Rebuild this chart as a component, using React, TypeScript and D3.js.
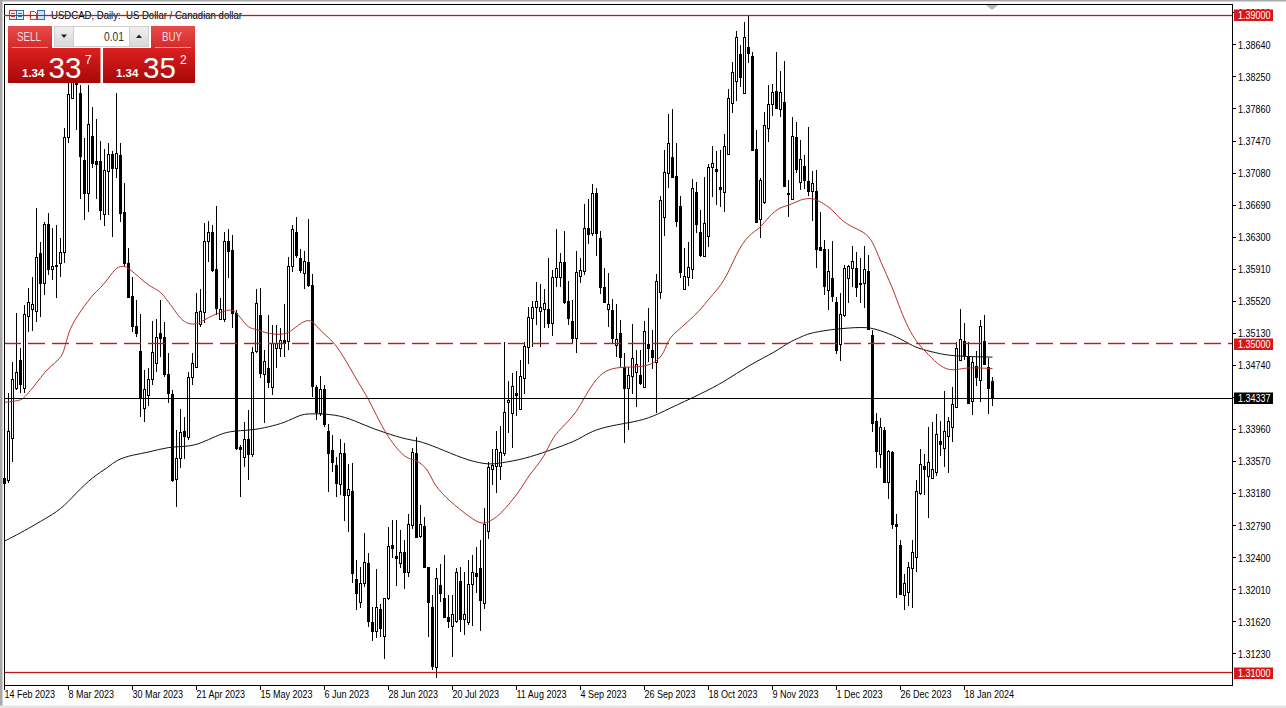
/**
 * USDCAD daily candlestick chart, MetaTrader style
 */
import React from "react";
import * as d3 from "d3";

const highs = [
  1.3337,1.3440,1.3478,1.3538,1.3495,1.3547,1.3568,1.3581,1.3665,1.3624,
  1.3648,1.3659,1.3641,1.3645,1.3629,1.3763,1.3821,1.3833,1.3840,1.3815,
  1.3751,1.3815,1.3788,1.3774,1.3747,1.3737,1.3745,1.3735,1.3805,1.3745,
  1.3696,1.3617,1.3581,1.3553,1.3536,1.3468,1.3471,1.3528,1.3530,1.3553,
  1.3527,1.3489,1.3444,1.3395,1.3421,1.3411,1.3466,1.3489,1.3562,1.3567,
  1.3647,1.3650,1.3645,1.3668,1.3556,1.3636,1.3640,1.3633,1.3541,1.3377,
  1.3405,1.3420,1.3496,1.3567,1.3568,1.3493,1.3535,1.3523,1.3523,1.3519,
  1.3549,1.3606,1.3645,1.3655,1.3616,1.3613,1.3652,1.3585,1.3450,1.3461,
  1.3450,1.3403,1.3389,1.3362,1.3384,1.3379,1.3354,1.3355,1.3237,1.3229,
  1.3270,1.3246,1.3180,1.3226,1.3184,1.3191,1.3277,1.3286,1.3286,1.3274,
  1.3261,1.3293,1.3373,1.3387,1.3304,1.3289,1.3229,1.3194,1.3227,1.3232,
  1.3243,1.3194,1.3194,1.3227,1.3229,1.3222,1.3237,1.3243,1.3253,1.3261,
  1.3300,1.3356,1.3372,1.3394,1.3400,1.3502,1.3455,1.3465,1.3467,1.3480,
  1.3502,1.3545,1.3552,1.3575,1.3573,1.3567,1.3605,1.3590,1.3640,1.3611,
  1.3637,1.3577,1.3553,1.3613,1.3605,1.3670,1.3676,1.3695,1.3690,1.3637,
  1.3592,1.3586,1.3555,1.3549,1.3529,1.3489,1.3472,1.3524,1.3493,1.3493,
  1.3528,1.3544,1.3517,1.3585,1.3680,1.3736,1.3780,1.3786,1.3745,1.3680,
  1.3617,1.3624,1.3701,1.3697,1.3663,1.3703,1.3719,1.3741,1.3735,1.3736,
  1.3756,1.3810,1.3843,1.3881,1.3864,1.3892,1.3899,1.3855,1.3760,1.3702,
  1.3782,1.3815,1.3816,1.3855,1.3832,1.3844,1.3700,1.3776,1.3770,1.3748,
  1.3730,1.3764,1.3711,1.3712,1.3661,1.3626,1.3616,1.3625,1.3557,1.3562,
  1.3596,1.3596,1.3619,1.3612,1.3605,1.3619,1.3608,1.3517,1.3416,1.3410,
  1.3399,1.3371,1.3370,1.3293,1.3261,1.3220,1.3235,1.3261,1.3334,1.3372,
  1.3366,1.3399,1.3405,1.3415,1.3406,1.3443,1.3411,1.3448,1.3502,1.3542,
  1.3526,1.3502,1.3484,1.3491,1.3529,1.3535,1.3483,1.3460,
];

const lows = [
  1.3331,1.3331,1.3356,1.3444,1.3440,1.3440,1.3515,1.3516,1.3527,1.3533,
  1.3560,1.3584,1.3578,1.3556,1.3581,1.3599,1.3745,1.3798,1.3760,1.3676,
  1.3651,1.3661,1.3714,1.3676,1.3651,1.3644,1.3657,1.3630,1.3702,1.3648,
  1.3594,1.3556,1.3515,1.3508,1.3411,1.3405,1.3424,1.3450,1.3466,1.3484,
  1.3460,1.3428,1.3332,1.3302,1.3349,1.3360,1.3383,1.3450,1.3471,1.3521,
  1.3526,1.3600,1.3588,1.3535,1.3529,1.3527,1.3580,1.3519,1.3371,1.3314,
  1.3350,1.3334,1.3362,1.3489,1.3459,1.3404,1.3446,1.3438,1.3471,1.3484,
  1.3484,1.3493,1.3588,1.3605,1.3586,1.3567,1.3569,1.3435,1.3407,1.3412,
  1.3399,1.3320,1.3344,1.3314,1.3316,1.3285,1.3271,1.3209,1.3176,1.3179,
  1.3204,1.3156,1.3138,1.3142,1.3143,1.3117,1.3188,1.3240,1.3205,1.3227,
  1.3202,1.3216,1.3275,1.3265,1.3264,1.3229,1.3143,1.3103,1.3093,1.3186,
  1.3166,1.3154,1.3119,1.3160,1.3149,1.3146,1.3158,1.3157,1.3197,1.3151,
  1.3177,1.3263,1.3328,1.3319,1.3334,1.3364,1.3392,1.3373,1.3412,1.3420,
  1.3439,1.3476,1.3496,1.3523,1.3496,1.3519,1.3519,1.3510,1.3569,1.3569,
  1.3549,1.3523,1.3501,1.3489,1.3574,1.3584,1.3622,1.3631,1.3607,1.3561,
  1.3551,1.3521,1.3501,1.3484,1.3472,1.3379,1.3395,1.3439,1.3423,1.3450,
  1.3448,1.3478,1.3470,1.3416,1.3555,1.3631,1.3690,1.3702,1.3642,1.3580,
  1.3567,1.3571,1.3579,1.3635,1.3606,1.3606,1.3618,1.3679,1.3669,1.3667,
  1.3661,1.3731,1.3781,1.3796,1.3813,1.3805,1.3842,1.3735,1.3648,1.3629,
  1.3670,1.3746,1.3777,1.3786,1.3776,1.3691,1.3655,1.3675,1.3708,1.3687,
  1.3689,1.3680,1.3650,1.3592,1.3613,1.3560,1.3541,1.3551,1.3488,1.3479,
  1.3533,1.3550,1.3569,1.3557,1.3550,1.3544,1.3517,1.3393,1.3349,1.3349,
  1.3332,1.3311,1.3275,1.3191,1.3196,1.3176,1.3181,1.3179,1.3222,1.3316,
  1.3316,1.3288,1.3337,1.3339,1.3364,1.3350,1.3343,1.3381,1.3422,1.3479,
  1.3480,1.3427,1.3414,1.3449,1.3429,1.3474,1.3415,1.3424,
];

const opens = [
  1.3337,1.3334,1.3386,1.3446,1.3480,1.3446,1.3534,1.3542,1.3540,1.3611,
  1.3574,1.3646,1.3591,1.3596,1.3599,1.3612,1.3752,1.3799,1.3833,1.3805,
  1.3724,1.3684,1.3753,1.3723,1.3723,1.3658,1.3711,1.3731,1.3714,1.3730,
  1.3661,1.3599,1.3558,1.3522,1.3491,1.3422,1.3438,1.3457,1.3477,1.3513,
  1.3508,1.3463,1.3439,1.3336,1.3361,1.3394,1.3387,1.3460,1.3472,1.3524,
  1.3539,1.3625,1.3636,1.3591,1.3530,1.3530,1.3625,1.3614,1.3538,1.3375,
  1.3362,1.3384,1.3366,1.3491,1.3535,1.3463,1.3471,1.3448,1.3495,1.3495,
  1.3505,1.3504,1.3595,1.3636,1.3605,1.3586,1.3600,1.3572,1.3448,1.3416,
  1.3445,1.3394,1.3371,1.3353,1.3330,1.3367,1.3316,1.3321,1.3214,1.3186,
  1.3209,1.3233,1.3162,1.3151,1.3177,1.3145,1.3191,1.3255,1.3242,1.3233,
  1.3247,1.3222,1.3280,1.3367,1.3266,1.3278,1.3229,1.3180,1.3107,1.3207,
  1.3191,1.3168,1.3157,1.3163,1.3211,1.3165,1.3162,1.3208,1.3221,1.3227,
  1.3185,1.3272,1.3348,1.3351,1.3351,1.3367,1.3429,1.3416,1.3440,1.3421,
  1.3459,1.3496,1.3532,1.3545,1.3540,1.3542,1.3542,1.3526,1.3581,1.3581,
  1.3600,1.3552,1.3528,1.3507,1.3583,1.3589,1.3641,1.3635,1.3684,1.3629,
  1.3569,1.3542,1.3541,1.3499,1.3513,1.3472,1.3446,1.3461,1.3466,1.3462,
  1.3448,1.3500,1.3493,1.3478,1.3563,1.3655,1.3708,1.3728,1.3704,1.3668,
  1.3567,1.3581,1.3591,1.3685,1.3636,1.3607,1.3631,1.3715,1.3713,1.3691,
  1.3685,1.3731,1.3793,1.3820,1.3853,1.3805,1.3861,1.3850,1.3737,1.3652,
  1.3673,1.3763,1.3792,1.3808,1.3786,1.3794,1.3684,1.3676,1.3752,1.3697,
  1.3716,1.3698,1.3686,1.3686,1.3618,1.3616,1.3566,1.3580,1.3551,1.3500,
  1.3535,1.3580,1.3592,1.3592,1.3574,1.3574,1.3589,1.3511,1.3406,1.3366,
  1.3395,1.3332,1.3368,1.3281,1.3255,1.3194,1.3198,1.3227,1.3241,1.3319,
  1.3351,1.3339,1.3337,1.3344,1.3382,1.3373,1.3388,1.3399,1.3423,1.3480,
  1.3504,1.3484,1.3431,1.3473,1.3456,1.3504,1.3472,1.3455,
];

const closes = [
  1.3331,1.3394,1.3457,1.3466,1.3451,1.3536,1.3551,1.3549,1.3606,1.3574,
  1.3646,1.3591,1.3595,1.3595,1.3612,1.3752,1.3804,1.3824,1.3816,1.3729,
  1.3684,1.3768,1.3720,1.3719,1.3663,1.3712,1.3731,1.3714,1.3732,1.3659,
  1.3599,1.3557,1.3522,1.3513,1.3434,1.3445,1.3457,1.3490,1.3508,1.3507,
  1.3463,1.3440,1.3334,1.3361,1.3393,1.3388,1.3460,1.3477,1.3539,1.3540,
  1.3625,1.3636,1.3590,1.3544,1.3542,1.3625,1.3613,1.3538,1.3373,1.3372,
  1.3384,1.3366,1.3490,1.3550,1.3465,1.3479,1.3454,1.3501,1.3501,1.3505,
  1.3501,1.3595,1.3640,1.3608,1.3590,1.3601,1.3572,1.3449,1.3417,1.3445,
  1.3403,1.3367,1.3356,1.3331,1.3367,1.3316,1.3323,1.3221,1.3197,1.3209,
  1.3235,1.3163,1.3151,1.3180,1.3154,1.3191,1.3254,1.3252,1.3240,1.3247,
  1.3222,1.3281,1.3368,1.3265,1.3281,1.3229,1.3186,1.3108,1.3215,1.3197,
  1.3168,1.3163,1.3171,1.3222,1.3165,1.3171,1.3208,1.3222,1.3218,1.3188,
  1.3281,1.3350,1.3353,1.3372,1.3368,1.3417,1.3432,1.3449,1.3438,1.3461,
  1.3498,1.3533,1.3545,1.3552,1.3545,1.3550,1.3526,1.3581,1.3592,1.3600,
  1.3551,1.3532,1.3507,1.3588,1.3590,1.3641,1.3634,1.3684,1.3635,1.3569,
  1.3551,1.3549,1.3507,1.3506,1.3484,1.3446,1.3462,1.3483,1.3476,1.3452,
  1.3516,1.3495,1.3484,1.3577,1.3675,1.3709,1.3745,1.3703,1.3650,1.3588,
  1.3583,1.3594,1.3690,1.3646,1.3608,1.3647,1.3715,1.3720,1.3711,1.3689,
  1.3741,1.3799,1.3831,1.3874,1.3825,1.3874,1.3854,1.3736,1.3648,1.3700,
  1.3766,1.3792,1.3807,1.3787,1.3807,1.3692,1.3682,1.3753,1.3713,1.3725,
  1.3700,1.3686,1.3696,1.3616,1.3614,1.3571,1.3589,1.3558,1.3493,1.3536,
  1.3592,1.3595,1.3601,1.3569,1.3573,1.3591,1.3518,1.3404,1.3370,1.3399,
  1.3332,1.3370,1.3281,1.3278,1.3196,1.3209,1.3229,1.3247,1.3321,1.3354,
  1.3348,1.3356,1.3348,1.3390,1.3378,1.3394,1.3406,1.3427,1.3495,1.3506,
  1.3487,1.3428,1.3478,1.3460,1.3522,1.3476,1.3446,1.3434,
];

// Red moving average, read at a spread of bars
const fastBars = [0,4,5,7,9,11,14,15,16,18,22,24,26,28,30,31,34,36,39,40,42,44,46,48,50,52,54,57,59,61,63,66,70,72,75,77,79,83,88,91,95,99,101,103,106,107,110,115,119,121,124,129,131,135,137,140,143,145,148,151,155,160,163,165,166,169,174,176,180,183,186,189,191,194,196,199,202,204,207,209,212,215,217,219,222,224,226,228,231,234,237,240,243,247];
const fastValues = [1.3429,1.3431,1.3435,1.3446,1.3459,1.3471,1.3482,1.3493,1.3515,1.3533,1.3560,1.3568,1.3580,1.3594,1.3595,1.3592,1.3580,1.3571,1.3564,1.3557,1.3545,1.3530,1.3524,1.3524,1.3529,1.3535,1.3538,1.3544,1.3532,1.3519,1.3518,1.3512,1.3511,1.3517,1.3529,1.3529,1.3515,1.3501,1.3456,1.3434,1.3392,1.3367,1.3360,1.3359,1.3347,1.3332,1.3314,1.3294,1.3280,1.3283,1.3292,1.3322,1.3340,1.3362,1.3387,1.3401,1.3417,1.3435,1.3459,1.3470,1.3472,1.3472,1.3478,1.3490,1.3507,1.3519,1.3541,1.3555,1.3575,1.3611,1.3633,1.3641,1.3655,1.3667,1.3668,1.3676,1.3678,1.3673,1.3664,1.3651,1.3642,1.3636,1.3626,1.3600,1.3569,1.3541,1.3519,1.3502,1.3487,1.3472,1.3467,1.3471,1.3471,1.3470];

// Black moving average
const slowBars = [0,4,8,10,14,18,22,26,28,32,36,41,46,49,53,56,62,66,70,74,76,80,85,90,95,101,104,110,116,121,124,130,136,143,146,150,156,161,166,174,180,186,193,196,199,201,207,215,218,222,226,228,233,237,247];
const slowValues = [1.3260,1.3270,1.3281,1.3287,1.3298,1.3319,1.3338,1.3350,1.3359,1.3365,1.3368,1.3375,1.3375,1.3379,1.3388,1.3394,1.3395,1.3399,1.3404,1.3414,1.3415,1.3415,1.3412,1.3401,1.3392,1.3383,1.3382,1.3370,1.3358,1.3353,1.3355,1.3360,1.3370,1.3382,1.3392,1.3399,1.3404,1.3409,1.3421,1.3439,1.3454,1.3474,1.3491,1.3502,1.3508,1.3513,1.3518,1.3521,1.3518,1.3511,1.3501,1.3495,1.3489,1.3485,1.3484];

const priceTicks = [1.3903,1.3864,1.3825,1.3786,1.3747,1.3708,1.3669,1.363,1.3591,1.3552,1.3513,1.3474,1.3435,1.3396,1.3357,1.3318,1.3279,1.324,1.3201,1.3162,1.3123];
const dateLabels = ["14 Feb 2023","8 Mar 2023","30 Mar 2023","21 Apr 2023","15 May 2023","6 Jun 2023","28 Jun 2023","20 Jul 2023","11 Aug 2023","4 Sep 2023","26 Sep 2023","18 Oct 2023","9 Nov 2023","1 Dec 2023","26 Dec 2023","18 Jan 2024"];
const dateBars = [0,16,32,48,64,80,96,112,128,144,160,176,192,208,224,240];

const solidLevels = [1.39, 1.31];
const dashedLevel = 1.35;
const lastPrice = 1.34337;

const W = 1286;
const H = 708;
const plotLeft = 4;
const plotRight = 1232;
const plotTop = 4;
const plotBottom = 685;
const FONT = "'Liberation Sans', Arial, sans-serif";
const RED = "#b81c1c";

const xScale = d3.scaleLinear().domain([0, 247]).range([4.5, 992.5]);
const yScale = d3.scaleLinear().domain([1.31, 1.39]).range([672.6, 15.3]);

const px = (v: number) => Math.round(v) + 0.5;

function maPath(bars: number[], values: number[]) {
  return d3
    .line<number>()
    .x((b) => xScale(b))
    .y((_, i) => yScale(values[i]))
    .curve(d3.curveBasis)(bars);
}

// The terminal's UI font is narrower than anything installed, so squeeze Liberation
const Squeezed = ({ x, y, size = 11, fill = "#000", anchor = "start", k = 0.82, children }: any) => (
  <text
    transform={`translate(${x},${y}) scale(${k},1)`}
    fontSize={size}
    fill={fill}
    textAnchor={anchor}
    fontFamily={FONT}
  >
    {children}
  </text>
);

const PriceFlag = ({ price, fill }: { price: number; fill: string }) => {
  const y = Math.round(yScale(price));
  return (
    <g>
      <rect x={1234} y={y - 5.5} width={39} height={11.5} fill={fill} />
      <Squeezed x={1238} y={y + 4} fill="#fff">
        {price.toFixed(5)}
      </Squeezed>
    </g>
  );
};

const Panel = () => (
  <g fontFamily={FONT}>
    <defs>
      <linearGradient id="btn" x1="0" y1="0" x2="0" y2="1">
        <stop offset="0" stopColor="#e84a4a" />
        <stop offset="1" stopColor="#d42a2a" />
      </linearGradient>
      <linearGradient id="quote" x1="0" y1="0" x2="0" y2="1">
        <stop offset="0" stopColor="#dc2020" />
        <stop offset="1" stopColor="#a80808" />
      </linearGradient>
      <linearGradient id="arrow" x1="0" y1="0" x2="0" y2="1">
        <stop offset="0" stopColor="#f0f0f0" />
        <stop offset="1" stopColor="#d8d8d8" />
      </linearGradient>
    </defs>
    <rect x={8} y={26} width={44} height={22} fill="url(#btn)" />
    <rect x={151} y={26} width={44} height={22} fill="url(#btn)" />
    <line x1={12} x2={48} y1={47.5} y2={47.5} stroke="#f4a0a0" />
    <line x1={155} x2={191} y1={47.5} y2={47.5} stroke="#f4a0a0" />
    <rect x={8} y={48} width={92.5} height={35} fill="url(#quote)" />
    <rect x={103} y={48} width={92} height={35} fill="url(#quote)" />
    <Squeezed x={29} y={41} size={13} fill="#fbdcdc" anchor="middle" k={0.75}>SELL</Squeezed>
    <Squeezed x={172} y={41} size={13} fill="#fbdcdc" anchor="middle" k={0.75}>BUY</Squeezed>
    <rect x={54.5} y={26.5} width={94} height={20} fill="#fff" stroke="#cfcfcf" />
    <rect x={54.5} y={26.5} width={19} height={20} fill="url(#arrow)" stroke="#cfcfcf" />
    <rect x={129.5} y={26.5} width={19} height={20} fill="url(#arrow)" stroke="#cfcfcf" />
    <path d="M61 34.5h6l-3 3.5z" fill="#222" />
    <path d="M136 38h6l-3-3.5z" fill="#222" />
    <Squeezed x={124} y={41} size={12.5} fill="#333" anchor="end">0.01</Squeezed>
    <text x={22} y={77} fontSize={11.5} fontWeight="bold" fill="#fff">1.34</text>
    <text x={48.5} y={77.5} fontSize={29.5} fill="#fff">33</text>
    <text x={85} y={63.5} fontSize={12} fill="#fff">7</text>
    <text x={116} y={77} fontSize={11.5} fontWeight="bold" fill="#fff">1.34</text>
    <text x={143} y={77.5} fontSize={29.5} fill="#fff">35</text>
    <text x={180} y={63.5} fontSize={12} fill="#fff">2</text>
  </g>
);

const Icons = () => (
  <g fill="none" strokeWidth={1}>
    <rect x={9.5} y={10.5} width={7} height={9} stroke="#c03a3a" fill="#fbe9e4" />
    <rect x={16.5} y={10.5} width={7} height={9} stroke="#2f6fb0" fill="#e4eefa" />
    <path d="M11 13.5h4M11 16.5h4" stroke="#c03a3a" />
    <path d="M18 13.5h4M18 16.5h4" stroke="#2f6fb0" />
    <path d="M30.5 19.5v-8h4l2 2v6z" stroke="#c03a3a" fill="#fdf1ec" />
    <rect x={37.5} y={10.5} width={7} height={9} stroke="#2f6fb0" fill="#cfe2f6" />
  </g>
);

export default function App() {
  const dashY = px(yScale(dashedLevel) - 0.5);
  return (
    <svg
      width={W}
      height={H}
      viewBox={`0 0 ${W} ${H}`}
      style={{ position: "absolute", left: 0, top: 0, background: "#fff" }}
    >
      {/* window edge */}
      <rect x={0} y={0} width={W} height={1.5} fill="#a8a8a8" />
      <rect x={0} y={0} width={2.5} height={H} fill="#a8a8a8" />
      <rect x={0} y={705.5} width={W} height={2.5} fill="#e4e4e4" />

      {/* candles */}
      <g shapeRendering="crispEdges">
        {closes.map((c, i) => {
          const x = Math.round(xScale(i) - 0.5) + 0.5;
          const o = opens[i];
          const up = c >= o;
          const top = Math.round(yScale(Math.max(o, c)));
          const bottom = Math.round(yScale(Math.min(o, c)));
          return (
            <g key={i}>
              <line
                x1={x}
                x2={x}
                y1={Math.round(yScale(highs[i]))}
                y2={Math.round(yScale(lows[i]))}
                stroke="#000"
              />
              <rect
                x={x - 1}
                y={top + 0.5}
                width={2}
                height={Math.max(bottom - top, 1)}
                fill={up ? "#fff" : "#000"}
                stroke="#000"
              />
            </g>
          );
        })}
      </g>

      {/* moving averages */}
      <path d={maPath(slowBars, slowValues) ?? ""} fill="none" stroke="#111" strokeWidth={1} />
      <path d={maPath(fastBars, fastValues) ?? ""} fill="none" stroke="#b8302a" strokeWidth={1} />

      {/* horizontal levels */}
      <g>
        {solidLevels.map((l) => (
          <g key={l}>
            <line x1={plotLeft} x2={plotRight} y1={px(yScale(l) - 0.5)} y2={px(yScale(l) - 0.5)} stroke={RED} strokeWidth={3} opacity={0.15} />
            <line x1={plotLeft} x2={plotRight} y1={px(yScale(l) - 0.5)} y2={px(yScale(l) - 0.5)} stroke={RED} />
          </g>
        ))}
        <line x1={plotLeft} x2={plotRight} y1={dashY} y2={dashY} stroke={RED} strokeWidth={3} opacity={0.2} strokeDasharray="17 7" />
        <line x1={plotLeft} x2={plotRight} y1={dashY} y2={dashY} stroke={RED} strokeDasharray="17 7" />
        <line
          x1={plotLeft}
          x2={plotRight}
          y1={px(yScale(lastPrice) - 0.5)}
          y2={px(yScale(lastPrice) - 0.5)}
          stroke="#000"
        />
      </g>

      {/* frame and axes */}
      <g shapeRendering="crispEdges" stroke="#000" fill="none">
        <path d={`M${plotLeft + 0.5} ${plotBottom + 0.5}V${plotTop + 0.5}H${plotRight + 0.5}V${plotBottom + 0.5}H${plotLeft + 0.5}`} />
        {priceTicks.map((t) => (
          <line key={t} x1={plotRight} x2={plotRight + 4} y1={px(yScale(t) - 0.5)} y2={px(yScale(t) - 0.5)} />
        ))}
        {dateBars.map((b) => (
          <line key={b} x1={px(xScale(b) - 0.5)} x2={px(xScale(b) - 0.5)} y1={plotBottom} y2={plotBottom + 5} />
        ))}
      </g>
      <g>
        {priceTicks.map((t) => (
          <Squeezed key={t} x={1238} y={yScale(t) + 4}>
            {t.toFixed(5)}
          </Squeezed>
        ))}
        {dateBars.map((b, i) => (
          <Squeezed key={b} x={xScale(b)} y={698}>
            {dateLabels[i]}
          </Squeezed>
        ))}
      </g>

      <PriceFlag price={1.39} fill="#d81818" />
      <PriceFlag price={1.35} fill="#d81818" />
      <PriceFlag price={1.31} fill="#d81818" />
      <PriceFlag price={lastPrice} fill="#000" />

      {/* shift marker */}
      <path d="M986 5h12l-6 5z" fill="#b8b8b8" />

      <Icons />
      <text
        x={51}
        y={19}
        fontSize={11}
        fill="#000"
        fontFamily={FONT}
        textLength={191}
        lengthAdjust="spacingAndGlyphs"
        style={{ whiteSpace: "pre" }}
      >
        USDCAD, Daily:  US Dollar / Canadian dollar
      </text>
      <line x1={plotLeft} x2={260} y1={15.5} y2={15.5} stroke={RED} shapeRendering="crispEdges" />
      <Panel />
    </svg>
  );
}
